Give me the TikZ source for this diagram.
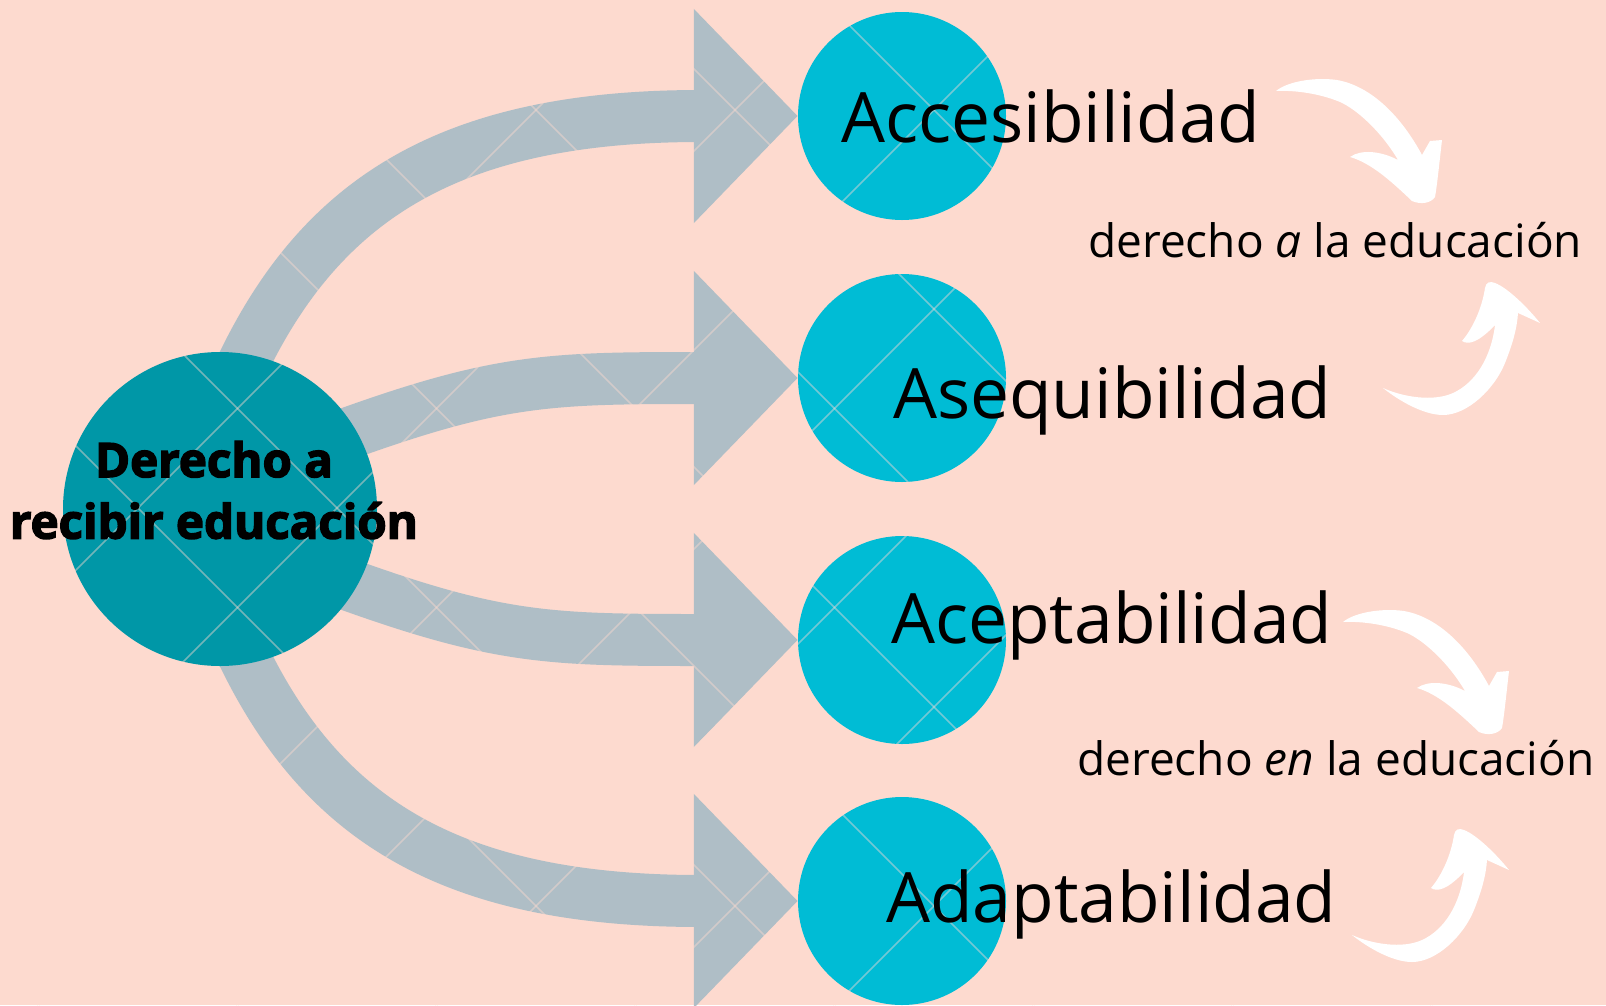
\documentclass[tikz,border=0pt]{standalone}
\usepackage{fontspec}
\setmainfont{Open Sans}
\newcommand\heavyfont{\bfseries\addfontfeatures{FakeBold=3}}
\usetikzlibrary{arrows.meta}
\definecolor{peach}{HTML}{FDDACF}
\definecolor{rootteal}{HTML}{0097A7}
\definecolor{leafcyan}{HTML}{00BCD5}
\definecolor{bandgrey}{HTML}{AFBEC6}
\pgfdeclarelayer{paper}
\pgfdeclarelayer{bands}
\pgfsetlayers{paper,bands,main}
\tikzset{
  downcurl/.pic={
    \fill[white,x=1pt,y=-1pt] (0,0) .. controls (12,-10) and (40,-14) .. (61,-11)
      .. controls (95,-5) and (125,25) .. (146,64) -- (154,50) -- (166,49)
      .. controls (163,75) and (161,95) .. (159,106)
      .. controls (155,112) and (145,114) .. (136,110)
      .. controls (115,90) and (95,72) .. (74,66)
      .. controls (85,58) and (105,60) .. (122,69)
      .. controls (105,40) and (80,18) .. (64,11)
      .. controls (45,3) and (20,-1) .. (0,0) -- cycle;
  },
  upcurl/.pic={
    \fill[white,x=1pt,y=-1pt] (0,0) .. controls (15,12) and (40,27) .. (60,27)
      .. controls (85,27) and (112,0) .. (122,-25)
      .. controls (130,-45) and (134,-60) .. (135,-75) -- (157,-65)
      .. controls (145,-80) and (125,-100) .. (112,-105)
      .. controls (107,-107) and (103,-106) .. (102,-100)
      .. controls (99,-80) and (90,-60) .. (79,-47)
      .. controls (85,-43) and (95,-45) .. (112,-63)
      .. controls (108,-30) and (92,-5) .. (70,5)
      .. controls (50,14) and (20,9) .. (0,0) -- cycle;
  },
}

\begin{document}
\begin{tikzpicture}[x=100pt,y=100pt,
    root/.style={circle,fill=rootteal,minimum size=314pt,inner sep=0pt},
    leaf/.style={circle,fill=leafcyan,minimum size=208pt,inner sep=0pt},
    band/.style={draw=bandgrey,line width=52pt,shorten <=-20pt,
      -{Triangle[length=104pt,width=208pt]}},
    grain/.style={draw=peach,line width=1.6pt,opacity=0.45},
    leaftext/.style={anchor=base west,inner sep=0pt,font=\fontsize{69.5}{80}\selectfont},
    righttext/.style={anchor=base west,inner sep=0pt,font=\fontsize{46}{55}\selectfont}]
  \begin{pgfonlayer}{paper}
    \fill[peach] (0,0) rectangle (16.06,-10.05);
  \end{pgfonlayer}
  \useasboundingbox (0,0) rectangle (16.06,-10.05);

  \node[root] (root) at (2.20,-5.09) {};
  \node[leaf] (acc) at (9.02,-1.16) {};
  \node[leaf] (asq) at (9.02,-3.78) {};
  \node[leaf] (acp) at (9.02,-6.40) {};
  \node[leaf] (ada) at (9.02,-9.01) {};

  \begin{pgfonlayer}{bands}
    \draw[band] (root.80) .. controls +(65:1.7) and +(-3.5,0) .. (acc.west);
    \draw[band] (root.30) .. controls +(20:1.5) and +(-2.5,0) .. (asq.west);
    \draw[band] (root.-30) .. controls +(-20:1.5) and +(-2.5,0) .. (acp.west);
    \draw[band] (root.-80) .. controls +(-65:1.7) and +(-3.5,0) .. (ada.west);
  \end{pgfonlayer}

  % faint diagonal grain on the shapes
  \begin{scope}[blend mode=lighten]
    \foreach \k in {-1,...,13}
      \draw[grain] ({0.49+1.99*\k},0) -- ++(-10.05,-10.05);
    \foreach \k in {-6,...,8}
      \draw[grain] ({0.28+1.99*\k},0) -- ++(10.05,-10.05);
  \end{scope}

  \node[align=center,font=\fontsize{47.5}{61.5}\selectfont\heavyfont] (rootlbl)
    at (2.14,-4.90) {Derecho a\\recibir educación};
  \node[leaftext] (acclbl) at (8.41,-1.42) {Accesibilidad};
  \node[leaftext] (asqlbl) at (8.93,-4.18) {Asequibilidad};
  \node[leaftext] (acplbl) at (8.91,-6.43) {Aceptabilidad};
  \node[leaftext] (adalbl) at (8.86,-9.22) {Adaptabilidad};

  \node[righttext] (alabel) at (10.88,-2.57) {derecho \textit{a} la educación};
  \node[righttext] (enlabel) at (10.77,-7.75) {derecho \textit{en} la educación};

  % curled white arrows
  \pic at (12.76,-0.91) {downcurl};
  \pic at (13.83,-3.88) {upcurl};
  \pic at (13.43,-6.22) {downcurl};
  \pic at (13.52,-9.35) {upcurl};
\end{tikzpicture}
\end{document}
